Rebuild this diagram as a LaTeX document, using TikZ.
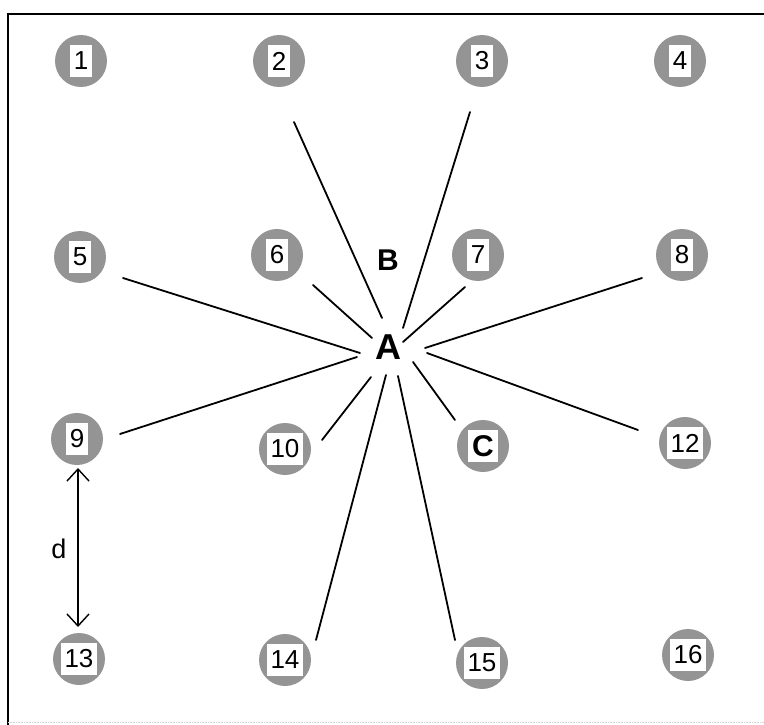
\documentclass[tikz,border=0pt]{standalone}
\usepackage{fontspec}
\setmainfont{Liberation Sans}
\usetikzlibrary{arrows.meta}
\tikzset{
  site/.style={circle, fill=black!42, minimum size=52pt, inner sep=0pt},
  tag/.style={fill=white, inner xsep=4pt, inner ysep=0pt, minimum height=32pt,
              font=\fontsize{26}{26}\selectfont},
  ray/.style={line width=1.8pt, line cap=round},
  frame/.style={line width=1.8pt},
  dist/.style={line width=1.4pt, {Straight Barb[length=12pt,width=22pt]}-{Straight Barb[length=12pt,width=22pt]}},
}
\begin{document}
\begin{tikzpicture}[x=1pt,y=-1pt]
\useasboundingbox (0,0) rectangle (764,725);
\draw[frame] (764,14) -- (8,14) -- (8,725);
\draw[gray!35, line width=0.6pt, densely dotted] (8,722) -- (764,722);

% grid of numbered sites
\foreach \n/\x/\y in {1/81/61, 2/279/61, 3/482/61, 4/680/61,
                      5/80/257, 6/277/255, 7/478/255, 8/682/255,
                      9/77/439, 10/285/449, 12/685/443,
                      13/79/659, 14/285/660, 15/482/663, 16/688/655}{
  \node[site] (s\n) at (\x,\y) {};
  \node[tag] (t\n) at (s\n) {\n};
}
% site C
\node[site] (sC) at (483,446) {};
\node[tag, font=\fontsize{30}{30}\selectfont\bfseries] (tC) at (sC) {C};

% labels A and B
\node[font=\fontsize{36}{36}\selectfont\bfseries] (A) at (388,347) {A};
\node[font=\fontsize{30}{30}\selectfont\bfseries] (B) at (388,260) {B};

% rays around A: outer end / inner end
\foreach \r/\xo/\yo/\xi/\yi in {2/294/122/382/318, 3/470/112/403/328,
    5/123/278/360/353, 6/313/285/372/338, 7/465/287/403/342,
    8/642/278/425/348, 9/120/434/357/357, 10/322/440/371/377,
    14/316/640/386/375, 15/455/640/398/376, C/455/420/413/362,
    12/638/430/427/353}{
  \coordinate (o\r) at (\xo,\yo);
  \coordinate (i\r) at (\xi,\yi);
  \draw[ray] (i\r) -- (o\r);
}

% spacing d between sites 9 and 13
\coordinate (dTop) at (78,468);
\coordinate (dBot) at (78,627);
\draw[dist] (dTop) -- (dBot);
\node[font=\fontsize{27}{27}\selectfont] (d) at (59,549) {d};
\end{tikzpicture}
\end{document}
